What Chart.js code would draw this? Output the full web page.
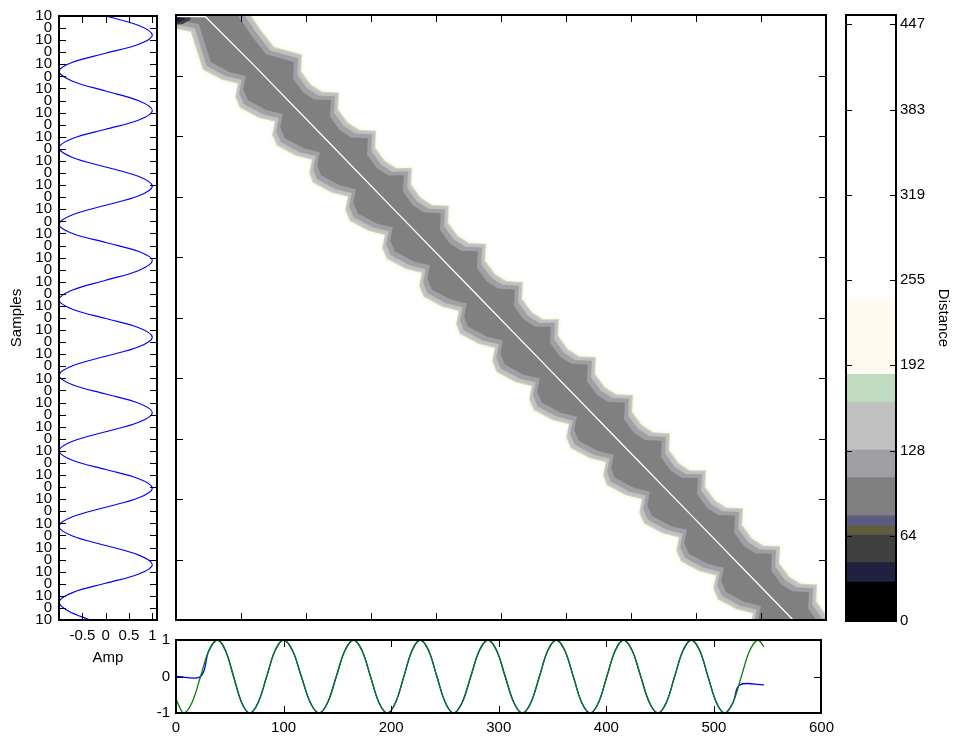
<!DOCTYPE html>
<html>
<head>
<meta charset="utf-8">
<script src="https://cdn.jsdelivr.net/npm/chart.js"></script>
<style>
  html, body { margin: 0; padding: 0; background: #fff; }
  #wrap { position: relative; width: 953px; height: 738px; overflow: hidden; background: #fff; }
  canvas { position: absolute; }
</style>
</head>
<body>
<div id="wrap">
  <canvas id="cMain" width="670" height="630" style="left:170px;top:0"></canvas>
  <canvas id="cRef" width="175" height="680" style="left:0;top:0"></canvas>
  <canvas id="cQuery" width="840" height="113" style="left:0;top:625px"></canvas>
  <canvas id="cBar" width="113" height="640" style="left:840px;top:0"></canvas>
</div>
<script>
// ---------------- data ----------------
// Query signal (bottom axis): sample index and amplitude
const queryX = [0, 7, 14.9, 22.8, 30.6, 38.5, 46, 53.5, 61, 68.5, 76.4, 84.3, 92.1, 100,
  108.3, 116.5, 124.8, 133, 141, 149, 157, 165, 172.9, 180.8, 188.6, 196.5, 204.1, 211.8,
  219.4, 227, 234.8, 242.5, 250.3, 258, 266, 274, 282, 290, 298, 306, 314, 322, 329.9,
  337.8, 345.6, 353.5, 361.4, 369.3, 377.1, 385, 392.8, 400.5, 408.3, 416, 424, 432, 440,
  448, 455.8, 463.5, 471.3, 479, 486.8, 494.5, 502.3, 510, 517.8, 525.5, 533.3, 541, 546.5];
const queryAmp = [-0.62, -1,
  -0.71, 0, 0.71, 1,   0.71, 0, -0.71, -1,
  -0.71, 0, 0.71, 1,   0.71, 0, -0.71, -1,
  -0.71, 0, 0.71, 1,   0.71, 0, -0.71, -1,
  -0.71, 0, 0.71, 1,   0.71, 0, -0.71, -1,
  -0.71, 0, 0.71, 1,   0.71, 0, -0.71, -1,
  -0.71, 0, 0.71, 1,   0.71, 0, -0.71, -1,
  -0.71, 0, 0.71, 1,   0.71, 0, -0.71, -1,
  -0.71, 0, 0.71, 1,   0.71, 0, -0.71, -1,
  -0.71, 0, 0.71, 1,   0.82];

// Reference signal (left axis): sample index and amplitude
const refSample = [0, 9.5, 19, 28, 37, 46, 55, 64.75, 74.5, 84.25, 94, 103.25, 112.5, 121.75,
  131, 140.5, 150, 159.5, 169, 178.5, 188, 197.5, 207, 216, 225, 234, 243, 252.75, 262.5,
  272.25, 282, 291.25, 300.5, 309.75, 319, 328.5, 338, 347.5, 357, 366.25, 375.5, 384.75,
  394, 403.5, 413, 422.5, 432, 441.25, 450.5, 459.75, 469, 478.5, 488, 497.5, 507, 516.5,
  526, 535.5, 545, 554.25, 563.5, 572.75, 582, 591, 600];
const refAmp = [0, 0.71, 1,
  0.71, 0, -0.71, -1,   -0.71, 0, 0.71, 1,
  0.71, 0, -0.71, -1,   -0.71, 0, 0.71, 1,
  0.71, 0, -0.71, -1,   -0.71, 0, 0.71, 1,
  0.71, 0, -0.71, -1,   -0.71, 0, 0.71, 1,
  0.71, 0, -0.71, -1,   -0.71, 0, 0.71, 1,
  0.71, 0, -0.71, -1,   -0.71, 0, 0.71, 1,
  0.71, 0, -0.71, -1,   -0.71, 0, 0.71, 1,
  0.71, 0, -0.71, -1,   -0.8, -0.33];

// Reference warped onto the query: flat head and tail outside the shared section
const warpHeadX = [0, 22.8];
const warpHeadAmp = [0, 0];
const warpTailX = [524, 546.5];
const warpTailAmp = [-0.23, -0.23];

// Warping path through the cost matrix (query index, reference index)
const pathX = [0, 27, 69.1, 137.4, 204.7, 273.0, 340.4, 408.7, 476.2, 544.5, 569.7, 600];
const pathY = [1.5, 1.5, 46.7, 122.2, 196.7, 272.2, 346.7, 422.2, 496.7, 572.2, 600, 600];

// Low-cost band along the path: one star-shaped lobe per half period
const starX = [69.1, 103.2, 137.4, 170.6, 204.7, 238.9, 273.0, 306.3, 340.4, 374.6, 408.7,
  442.0, 476.2, 510.4, 544.5, 578.6];
const starY = [46.7, 84.4, 122.2, 158.9, 196.7, 234.4, 272.2, 308.9, 346.7, 384.4, 422.2,
  458.9, 496.7, 534.4, 572.2, 609.7];
// Outline of one lobe relative to its centre, in order along each edge
const rightEdgeDX = [39.7, 39.0, 48.0, 58.5];
const rightEdgeDY = [0, 16.5, 29.8, 37.0];
const leftEdgeDX = [-36.9, -19.5, -4.6, -7.0];
const leftEdgeDY = [0, 10.0, 13.9, 27.0];
// Band edges at the start of the path (top-left corner)
const capRightX = [57, 70, 83];
const capRightY = [0, 21, 39];
const capLeftX = [0, 21];
const capLeftY = [5, 9];
// Lowest-cost cells in the top-left corner
const cornerDarkX = [-5, 16, 13, 6, -5];
const cornerDarkY = [-5, -5, 5, 9, 10];
const cornerNavyX = [-5, 10, 8, 3, -5];
const cornerNavyY = [-5, -5, 4, 7, 7];
const cornerBlackX = [-5, 6, 4, -5];
const cornerBlackY = [-5, -5, 3, 4];

// Distance colour map: level edges and colours
const levelEdges = [0, 29.2, 43.7, 64.4, 71.2, 78.7, 107.4, 128.1, 164.0, 184.8, 242.5, 454];
const levelColors = ['#000000', '#202040', '#404040', '#5f5f40', '#5b5b80', '#808080',
  '#a0a0a4', '#c0c0c0', '#c0dcc0', '#fffbf0', '#ffffff'];
// Contour rings around the band: [colour level, extra reach in samples]
const bandRings = [[9, 9.5], [8, 7.5], [7, 6.5], [6, 3.8], [5, 0]];

// Tick values and labels
const distanceTicks = [0, 63.86, 127.71, 191.57, 255.43, 319.29, 383.14, 447];
const distanceLabels = ['0', '64', '128', '192', '255', '319', '383', '447'];
const queryTicks = [0, 100, 200, 300, 400, 500, 600];
const queryTickLabels = ['0', '100', '200', '300', '400', '500', '600'];
const queryAmpTicks = [-1, 0, 1];
const queryAmpLabels = ['-1', '0', '1'];
const refAmpTicks = [-0.5, 0, 0.5, 1];
const refAmpLabels = ['-0.5', '0', '0.5', '1'];
const matrixTicks = [0, 60, 120, 180, 240, 300, 360, 420, 480, 540, 600];
const sampleTicks = Array.from({ length: 51 }, (_, i) => i * 12);
const sampleTickLabels = sampleTicks.map((_, i) => (i % 2 ? '0' : '10'));

// ---------------- helpers ----------------
Chart.defaults.font.family = "'Liberation Sans', Arial, sans-serif";
Chart.defaults.font.size = 15;
Chart.defaults.color = '#000';

const pts = (xs, ys) => xs.map((x, i) => ({ x, y: ys[i] }));
const fixedTicks = (vals) => (s) => { s.ticks = vals.map(v => ({ value: v })); };
const fixW = (w) => (s) => { s.width = w; };
const fixH = (h) => (s) => { s.height = h; };
const noGrid = { display: false, drawTicks: false };
const hiddenAxis = (extra) => Object.assign({
  ticks: { display: false }, grid: noGrid, border: { display: false }
}, extra);

// Box round the plot area with inward tick marks on every side
const framePlugin = {
  id: 'frame',
  afterDatasetsDraw(chart, args, opts) {
    const { ctx, chartArea: a } = chart;
    const L = Math.round(a.left), R = Math.round(a.right);
    const T = Math.round(a.top), B = Math.round(a.bottom);
    const len = opts.len || 7;
    ctx.save();
    ctx.strokeStyle = '#000';
    ctx.lineWidth = 1;
    ctx.beginPath();
    if (opts.x) {
      const sx = chart.scales.x;
      sx.ticks.forEach(t => {
        const p = Math.round(sx.getPixelForValue(t.value)) + 0.5;
        ctx.moveTo(p, T); ctx.lineTo(p, T + len);
        ctx.moveTo(p, B); ctx.lineTo(p, B - len);
      });
    }
    if (opts.y) {
      const sy = chart.scales.y;
      sy.ticks.forEach(t => {
        const p = Math.round(sy.getPixelForValue(t.value)) + 0.5;
        ctx.moveTo(L, p); ctx.lineTo(L + len, p);
        ctx.moveTo(R, p); ctx.lineTo(R - len, p);
      });
    }
    ctx.stroke();
    ctx.lineWidth = 2;
    ctx.strokeRect(L, T, R - L, B - T);
    ctx.restore();
  }
};

const baseOptions = {
  responsive: false,
  animation: false,
  devicePixelRatio: 1,
  events: [],
};

// ---------------- cost matrix ----------------
function bandOutline(m) {
  const right = [], left = [];
  capRightX.forEach((x, i) => right.push({ x: x + m, y: capRightY[i] - m }));
  capLeftX.forEach((x, i) => left.push({ x: x - m, y: capLeftY[i] + m }));
  starX.forEach((cx, k) => {
    const cy = starY[k];
    rightEdgeDX.forEach((dx, j) => right.push({ x: cx + dx + m, y: cy + rightEdgeDY[j] - m }));
    leftEdgeDX.forEach((dx, j) => left.push({ x: cx + dx - m, y: cy + leftEdgeDY[j] + m }));
  });
  return [{ x: -40, y: -40 }, ...right, ...left.reverse()];
}
const area = (data, color) => ({
  data, showLine: true, fill: 'shape', backgroundColor: color,
  borderWidth: 0, pointRadius: 0, tension: 0
});

const matrixSets = [
  { data: pts(pathX, pathY), showLine: true, fill: false, borderColor: '#ffffff',
    borderWidth: 1.3, pointRadius: 0, tension: 0 },
  area(pts(cornerBlackX, cornerBlackY), levelColors[0]),
  area(pts(cornerNavyX, cornerNavyY), levelColors[1]),
  area(pts(cornerDarkX, cornerDarkY), levelColors[2]),
];
bandRings.slice().reverse().forEach(([lvl, m]) => matrixSets.push(area(bandOutline(m), levelColors[lvl])));

new Chart(document.getElementById('cMain'), {
  type: 'scatter',
  data: { datasets: matrixSets },
  options: Object.assign({}, baseOptions, {
    layout: { padding: { left: 6, top: 15, right: 14, bottom: 10 } },
    plugins: { legend: { display: false }, tooltip: { enabled: false }, frame: { x: true, y: true } },
    scales: {
      x: hiddenAxis({ type: 'linear', min: 0, max: 600, afterBuildTicks: fixedTicks(matrixTicks), afterFit: fixH(0) }),
      y: hiddenAxis({ type: 'linear', min: 0, max: 600, reverse: true, afterBuildTicks: fixedTicks(matrixTicks), afterFit: fixW(0) })
    }
  }),
  plugins: [framePlugin]
});

// ---------------- reference panel (left) ----------------
new Chart(document.getElementById('cRef'), {
  type: 'scatter',
  data: { datasets: [{
    data: pts(refAmp, refSample), showLine: true, borderColor: '#0000ff',
    borderWidth: 1.2, pointRadius: 0, tension: 0.35
  }] },
  options: Object.assign({}, baseOptions, {
    layout: { padding: { left: 0, top: 15, right: 18, bottom: 0 } },
    plugins: { legend: { display: false }, tooltip: { enabled: false }, frame: { x: true, y: true } },
    scales: {
      x: { type: 'linear', min: -1, max: 1.1, afterBuildTicks: fixedTicks(refAmpTicks),
        ticks: { callback: (v, i) => refAmpLabels[i], autoSkip: false, maxRotation: 0, padding: 7 },
        grid: noGrid, border: { display: false },
        title: { display: true, text: 'Amp', padding: { top: 0, bottom: 13 } },
        afterFit: fixH(60) },
      y: { type: 'linear', min: 0, max: 600, reverse: true, afterBuildTicks: fixedTicks(sampleTicks),
        ticks: { callback: (v, i) => sampleTickLabels[i], autoSkip: false, padding: 7 },
        grid: noGrid, border: { display: false },
        title: { display: true, text: 'Samples', padding: { top: 8, bottom: 0 } },
        afterFit: fixW(59) }
    }
  }),
  plugins: [framePlugin]
});

// ---------------- query panel (bottom) ----------------
const warped = pts(warpHeadX, warpHeadAmp)
  .concat(pts(queryX, queryAmp).filter(p => p.x > warpHeadX[1] && p.x < warpTailX[0]))
  .concat(pts(warpTailX, warpTailAmp));

new Chart(document.getElementById('cQuery'), {
  type: 'scatter',
  data: { datasets: [
    { data: pts(queryX, queryAmp), showLine: true, borderColor: '#008000',
      borderWidth: 1.3, pointRadius: 0, tension: 0.35 },
    { data: warped, showLine: true, borderColor: '#0000ff',
      borderWidth: 1.3, pointRadius: 0, tension: 0.35 }
  ] },
  options: Object.assign({}, baseOptions, {
    layout: { padding: { left: 0, top: 10, right: 14, bottom: 0 } },
    plugins: { legend: { display: false }, tooltip: { enabled: false }, frame: { x: true, y: true } },
    scales: {
      x: { type: 'linear', min: 0, max: 600, afterBuildTicks: fixedTicks(queryTicks),
        ticks: { callback: (v, i) => queryTickLabels[i], autoSkip: false, maxRotation: 0, padding: 6 },
        grid: noGrid, border: { display: false }, afterFit: fixH(25) },
      y: { type: 'linear', min: -1, max: 1, afterBuildTicks: fixedTicks(queryAmpTicks),
        ticks: { callback: (v, i) => queryAmpLabels[i], autoSkip: false, padding: 6 },
        grid: noGrid, border: { display: false }, afterFit: fixW(176) }
    }
  }),
  plugins: [framePlugin]
});

// ---------------- colour bar ----------------
new Chart(document.getElementById('cBar'), {
  type: 'bar',
  data: {
    labels: ['Distance'],
    datasets: levelColors.map((c, i) => ({
      data: [[levelEdges[i], levelEdges[i + 1]]], backgroundColor: c, borderWidth: 0,
      barPercentage: 1, categoryPercentage: 1, grouped: false
    }))
  },
  options: Object.assign({}, baseOptions, {
    layout: { padding: { left: 6, top: 15, right: 0, bottom: 19 } },
    plugins: { legend: { display: false }, tooltip: { enabled: false }, frame: { y: true, len: 6 } },
    scales: {
      x: hiddenAxis({ afterFit: fixH(0) }),
      y: { position: 'right', min: 0, max: 454, afterBuildTicks: fixedTicks(distanceTicks),
        ticks: { callback: (v, i) => distanceLabels[i], autoSkip: false, padding: 4 },
        grid: noGrid, border: { display: false },
        title: { display: true, text: 'Distance', padding: { top: 1, bottom: 0 } },
        afterFit: fixW(57) }
    }
  }),
  plugins: [framePlugin]
});
</script>
</body>
</html>
